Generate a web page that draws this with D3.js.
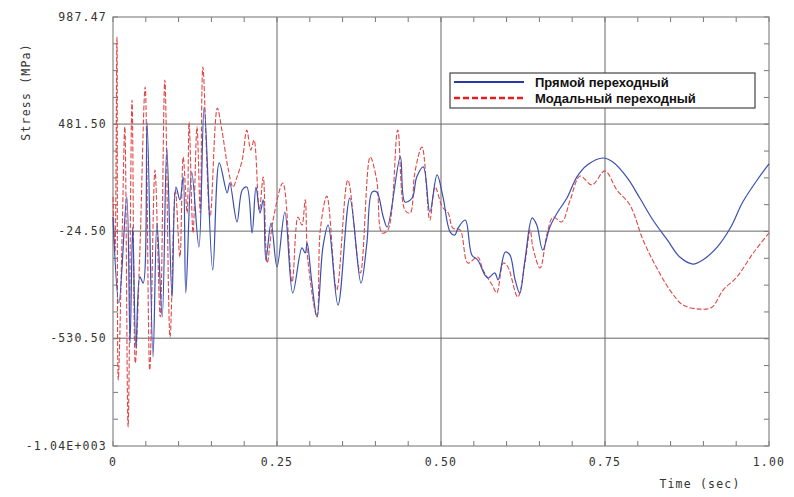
<!DOCTYPE html>
<html>
<head>
<meta charset="utf-8">
<script src="https://cdn.jsdelivr.net/npm/d3@7"></script>
<style>
  body { margin: 0; background: #fff; }
  text { font-family: "DejaVu Sans Mono", monospace; fill: #333; letter-spacing: 1.2px; }
</style>
</head>
<body>
<script>
// Direct transient (blue)
const directTime = [0,.009,.021,.026,.030,.035,.041,.046,.052,.061,.067,.075,.082,.090,.096,.102,.107,.111,.120,.131,.139,.152,.162,.174,.178,.189,.197,.204,.212,.218,.224,.229,.233,.241,.250,.262,.274,.288,.293,.296,.303,.311,.320,.328,.343,.361,.378,.387,.395,.402,.412,.418,.438,.445,.456,.463,.473,.483,.494,.503,.514,.521,.526,.537,.547,.556,.567,.572,.582,.587,.598,.605,.613,.620,.628,.639,.646,.655,.666,.677,.692,.707,.723,.747,.762,.784,.803,.823,.845,.864,.884,.899,.921,.941,.960,.982,1.000];
const directStress = [42,-364,137,-553,-5,-577,-241,-270,487,-619,14,-430,368,-336,184,123,231,-317,255,-100,562,-208,298,156,203,19,170,184,-33,184,61,123,-161,14,-194,66,-317,-104,-128,-81,-265,-430,-100,4,-374,132,-270,-81,160,160,42,-5,326,113,132,231,279,66,241,137,-29,-43,-10,28,-137,-161,-232,-246,-222,-255,-123,-137,-255,-317,-161,38,4,-114,-5,61,132,231,288,321,302,227,132,28,-66,-147,-180,-161,-100,-10,113,217,293];

// Modal transient (red, dashed)
const modalTime = [0,.003,.006,.008,.014,.018,.023,.029,.034,.041,.049,.056,.064,.072,.079,.087,.095,.102,.107,.113,.116,.122,.128,.133,.137,.148,.159,.166,.175,.183,.189,.197,.204,.210,.215,.223,.229,.235,.244,.259,.273,.282,.288,.293,.297,.311,.316,.326,.341,.358,.377,.392,.402,.410,.419,.434,.445,.453,.460,.471,.483,.491,.502,.511,.518,.529,.541,.556,.564,.578,.585,.595,.602,.617,.628,.636,.640,.651,.662,.671,.684,.697,.712,.730,.750,.768,.788,.808,.829,.849,.869,.895,.913,.930,.951,.976,1.000];
const modalStress = [137,-123,893,-728,-33,468,-950,595,-648,-114,657,-681,264,-430,690,-525,170,-147,326,61,491,-33,468,61,751,42,557,453,279,184,231,312,453,359,406,75,231,-175,28,203,-265,42,4,123,-161,-430,-19,141,-303,217,-222,326,217,-33,-19,453,75,61,250,373,28,184,90,61,-10,-19,-175,-147,-208,-279,-317,-175,-194,-336,-175,-19,-100,-199,-33,42,19,123,236,194,260,170,99,-66,-199,-303,-374,-393,-384,-303,-241,-128,-33];

const yTicks = [987.47, 481.5, -24.5, -530.5, -1040];
const yTickLabels = ["987.47", "481.50", "-24.50", "-530.50", "-1.04E+003"];
const xTicks = [0, 0.25, 0.5, 0.75, 1.0];
const xTickLabels = ["0", "0.25", "0.50", "0.75", "1.00"];
const seriesNames = ["Прямой переходный", "Модальный переходный"];

const W = 794, H = 497;
const margin = { top: 17, right: 25, bottom: 51, left: 113 };
const width = W - margin.left - margin.right;
const height = H - margin.top - margin.bottom;

const svg = d3.select('body').append('svg').attr('width', W).attr('height', H);
const g = svg.append('g').attr('transform', `translate(${margin.left},${margin.top})`);

const x = d3.scaleLinear().domain([0, 1]).range([0, width]);
const y = d3.scaleLinear().domain([-1040, 987.47]).range([height, 0]);

// grid
g.selectAll('.hgrid').data(yTicks.slice(1, 4)).enter().append('line')
  .attr('x1', 0).attr('x2', width).attr('y1', d => y(d)).attr('y2', d => y(d))
  .attr('stroke', '#666').attr('stroke-width', 1);
g.selectAll('.vgrid').data(xTicks.slice(1, 4)).enter().append('line')
  .attr('y1', 0).attr('y2', height).attr('x1', d => x(d)).attr('x2', d => x(d))
  .attr('stroke', '#666').attr('stroke-width', 1);

// minor ticks (inward)
const minorY = d3.range(0, 17).map(i => 987.47 - i * (2027.47 / 16));
const minorX = d3.range(0, 21).map(i => i * 0.05);
minorY.forEach(v => {
  g.append('line').attr('x1', 0).attr('x2', 5).attr('y1', y(v)).attr('y2', y(v)).attr('stroke', '#777');
  g.append('line').attr('x1', width - 5).attr('x2', width).attr('y1', y(v)).attr('y2', y(v)).attr('stroke', '#777');
});
minorX.forEach(v => {
  g.append('line').attr('x1', x(v)).attr('x2', x(v)).attr('y1', height).attr('y2', height - 5).attr('stroke', '#777');
  g.append('line').attr('x1', x(v)).attr('x2', x(v)).attr('y1', 0).attr('y2', 5).attr('stroke', '#777');
});

// frame
g.append('rect').attr('width', width).attr('height', height)
  .attr('fill', 'none').attr('stroke', '#888').attr('stroke-width', 1.2);

// tick labels
g.selectAll('.ylab').data(yTicks).enter().append('text')
  .attr('x', -6).attr('y', d => y(d)).attr('dy', '0.35em')
  .attr('text-anchor', 'end').attr('font-size', 11.5)
  .text((d, i) => yTickLabels[i]);
g.selectAll('.xlab').data(xTicks).enter().append('text')
  .attr('x', d => x(d)).attr('y', height + 20)
  .attr('text-anchor', 'middle').attr('font-size', 11.5)
  .text((d, i) => xTickLabels[i]);

svg.append('text').attr('transform', 'translate(30,92) rotate(-90)')
  .attr('text-anchor', 'middle').attr('font-size', 11.5).text('Stress (MPa)');
svg.append('text').attr('x', 700).attr('y', 488)
  .attr('text-anchor', 'middle').attr('font-size', 11.5).text('Time (sec)');

// lines
const line = d3.line().curve(d3.curveCatmullRom.alpha(0.5));
const modalPts = modalTime.map((t, i) => [x(t), y(modalStress[i])]);
const directPts = directTime.map((t, i) => [x(t), y(directStress[i])]);

g.append('path').attr('d', line(modalPts)).attr('fill', 'none')
  .attr('stroke', '#e04848').attr('stroke-width', 1.1).attr('stroke-dasharray', '5,2');
g.append('path').attr('d', line(directPts)).attr('fill', 'none')
  .attr('stroke', '#3b4fb0').attr('stroke-width', 1.2);

// legend
const lg = svg.append('g').attr('transform', 'translate(450,73)');
lg.append('rect').attr('width', 305).attr('height', 35)
  .attr('fill', '#fff').attr('stroke', '#444').attr('stroke-width', 1.2);
lg.append('line').attr('x1', 4).attr('x2', 74).attr('y1', 9).attr('y2', 9)
  .attr('stroke', '#2838a8').attr('stroke-width', 2);
lg.append('line').attr('x1', 4).attr('x2', 74).attr('y1', 25).attr('y2', 25)
  .attr('stroke', '#e02020').attr('stroke-width', 2.5).attr('stroke-dasharray', '6,3');
seriesNames.forEach((n, i) => {
  lg.append('text').attr('x', 85).attr('y', 9 + i * 16).attr('dy', '0.35em')
    .style('font-family', '"Liberation Sans", Arial, sans-serif').style('letter-spacing', '0')
    .attr('font-weight', 'bold').attr('font-size', 13).style('fill', '#111').text(n);
});
</script>
</body>
</html>
